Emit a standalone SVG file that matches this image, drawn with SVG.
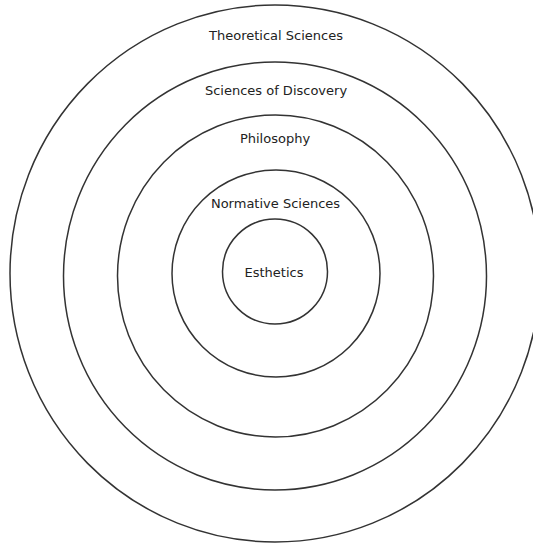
<svg xmlns="http://www.w3.org/2000/svg" width="533" height="547" viewBox="0 0 533 547">
<style>
.ring{fill:none;stroke:#333;stroke-width:1.5}
.lbl{font-family:"DejaVu Sans",Verdana,sans-serif;font-size:13px;fill:#222;text-anchor:middle}
</style>
<rect width="533" height="547" fill="#fff"/>
<g id="theoretical">
<ellipse class="ring" cx="275" cy="273.5" rx="265" ry="268.5"/>
<text class="lbl" x="276" y="40">Theoretical Sciences</text>
</g>
<g id="discovery">
<ellipse class="ring" cx="275" cy="276" rx="211.5" ry="214"/>
<text class="lbl" x="276" y="95">Sciences of Discovery</text>
</g>
<g id="philosophy">
<ellipse class="ring" cx="275.5" cy="276" rx="158" ry="161"/>
<text class="lbl" x="275" y="143">Philosophy</text>
</g>
<g id="normative">
<ellipse class="ring" cx="276" cy="273.5" rx="104" ry="103.5"/>
<text class="lbl" x="275.5" y="208">Normative Sciences</text>
</g>
<g id="esthetics">
<ellipse class="ring" cx="275" cy="271.5" rx="52.5" ry="52.5"/>
<text class="lbl" x="274" y="277">Esthetics</text>
</g>
<g id="connectors"/>
</svg>
